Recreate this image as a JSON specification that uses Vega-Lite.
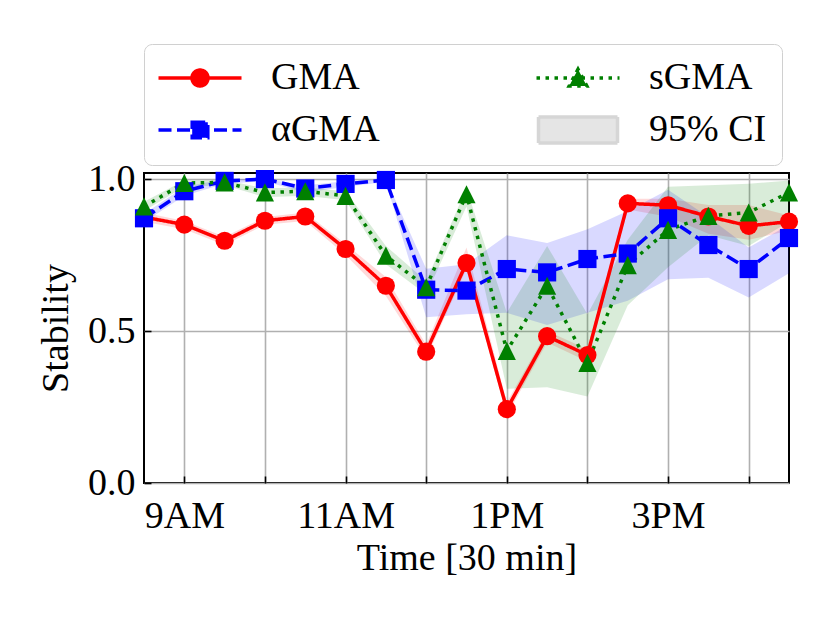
{
  "$schema": "https://vega.github.io/schema/vega-lite/v6.json",
  "width": 645,
  "height": 310,
  "autosize": {"type": "none"},
  "padding": {"left": 144, "top": 173, "right": 42, "bottom": 136},
  "background": "white",
  "config": {
    "view": {"stroke": "black", "strokeWidth": 2},
    "font": "Liberation Serif",
    "axis": {
      "domain": false,
      "grid": true,
      "gridColor": "#b0b0b0",
      "gridWidth": 1.6,
      "ticks": true,
      "tickColor": "black",
      "tickWidth": 1.6,
      "tickSize": -7,
      "labelFont": "Liberation Serif",
      "labelFontSize": 38,
      "labelColor": "black",
      "labelFlush": false,
      "labelOverlap": false,
      "titleFont": "Liberation Serif",
      "titleFontSize": 38,
      "titleFontWeight": "normal",
      "titleColor": "black"
    }
  },
  "data": {
    "values": [
      {"t": 8.5, "s": "GMA", "v": 0.875, "lo": 0.86, "hi": 0.89},
      {"t": 9, "s": "GMA", "v": 0.85, "lo": 0.835, "hi": 0.862},
      {"t": 9.5, "s": "GMA", "v": 0.797, "lo": 0.783, "hi": 0.81},
      {"t": 10, "s": "GMA", "v": 0.863, "lo": 0.85, "hi": 0.875},
      {"t": 10.5, "s": "GMA", "v": 0.877, "lo": 0.862, "hi": 0.89},
      {"t": 11, "s": "GMA", "v": 0.77, "lo": 0.75, "hi": 0.786},
      {"t": 11.5, "s": "GMA", "v": 0.649, "lo": 0.615, "hi": 0.678},
      {"t": 12, "s": "GMA", "v": 0.432, "lo": 0.41, "hi": 0.455},
      {"t": 12.5, "s": "GMA", "v": 0.724, "lo": 0.705, "hi": 0.775},
      {"t": 13, "s": "GMA", "v": 0.243, "lo": 0.222, "hi": 0.265},
      {"t": 13.5, "s": "GMA", "v": 0.483, "lo": 0.462, "hi": 0.5},
      {"t": 14, "s": "GMA", "v": 0.421, "lo": 0.4, "hi": 0.44},
      {"t": 14.5, "s": "GMA", "v": 0.92, "lo": 0.9, "hi": 0.935},
      {"t": 15, "s": "GMA", "v": 0.914, "lo": 0.876, "hi": 0.935},
      {"t": 15.5, "s": "GMA", "v": 0.877, "lo": 0.82, "hi": 0.915},
      {"t": 16, "s": "GMA", "v": 0.846, "lo": 0.8, "hi": 0.915},
      {"t": 16.5, "s": "GMA", "v": 0.86, "lo": 0.83, "hi": 0.88},
      {"t": 8.5, "s": "αGMA", "v": 0.871, "lo": 0.858, "hi": 0.885},
      {"t": 9, "s": "αGMA", "v": 0.96, "lo": 0.945, "hi": 0.975},
      {"t": 9.5, "s": "αGMA", "v": 0.994, "lo": 0.985, "hi": 1.0},
      {"t": 10, "s": "αGMA", "v": 1.0, "lo": 0.993, "hi": 1.0},
      {"t": 10.5, "s": "αGMA", "v": 0.969, "lo": 0.955, "hi": 0.98},
      {"t": 11, "s": "αGMA", "v": 0.984, "lo": 0.975, "hi": 0.993},
      {"t": 11.5, "s": "αGMA", "v": 0.997, "lo": 0.99, "hi": 1.0},
      {"t": 12, "s": "αGMA", "v": 0.636, "lo": 0.545, "hi": 0.705},
      {"t": 12.5, "s": "αGMA", "v": 0.633, "lo": 0.555, "hi": 0.72},
      {"t": 13, "s": "αGMA", "v": 0.704, "lo": 0.56, "hi": 0.815},
      {"t": 13.5, "s": "αGMA", "v": 0.693, "lo": 0.52, "hi": 0.79},
      {"t": 14, "s": "αGMA", "v": 0.737, "lo": 0.56, "hi": 0.835},
      {"t": 14.5, "s": "αGMA", "v": 0.755, "lo": 0.6, "hi": 0.895},
      {"t": 15, "s": "αGMA", "v": 0.871, "lo": 0.67, "hi": 0.965},
      {"t": 15.5, "s": "αGMA", "v": 0.783, "lo": 0.675, "hi": 0.875},
      {"t": 16, "s": "αGMA", "v": 0.704, "lo": 0.61, "hi": 0.775},
      {"t": 16.5, "s": "αGMA", "v": 0.806, "lo": 0.69, "hi": 0.85},
      {"t": 8.5, "s": "sGMA", "v": 0.91, "lo": 0.895, "hi": 0.925},
      {"t": 9, "s": "sGMA", "v": 0.987, "lo": 0.975, "hi": 0.995},
      {"t": 9.5, "s": "sGMA", "v": 0.989, "lo": 0.98, "hi": 0.997},
      {"t": 10, "s": "sGMA", "v": 0.956, "lo": 0.94, "hi": 0.97},
      {"t": 10.5, "s": "sGMA", "v": 0.96, "lo": 0.945, "hi": 0.972},
      {"t": 11, "s": "sGMA", "v": 0.945, "lo": 0.93, "hi": 0.96},
      {"t": 11.5, "s": "sGMA", "v": 0.748, "lo": 0.72, "hi": 0.78},
      {"t": 12, "s": "sGMA", "v": 0.644, "lo": 0.62, "hi": 0.665},
      {"t": 12.5, "s": "sGMA", "v": 0.95, "lo": 0.91, "hi": 0.97},
      {"t": 13, "s": "sGMA", "v": 0.435, "lo": 0.31, "hi": 0.56},
      {"t": 13.5, "s": "sGMA", "v": 0.649, "lo": 0.315, "hi": 0.78},
      {"t": 14, "s": "sGMA", "v": 0.395, "lo": 0.285, "hi": 0.555},
      {"t": 14.5, "s": "sGMA", "v": 0.717, "lo": 0.585, "hi": 0.8},
      {"t": 15, "s": "sGMA", "v": 0.833, "lo": 0.71, "hi": 0.975},
      {"t": 15.5, "s": "sGMA", "v": 0.879, "lo": 0.815, "hi": 0.98},
      {"t": 16, "s": "sGMA", "v": 0.89, "lo": 0.78, "hi": 0.985},
      {"t": 16.5, "s": "sGMA", "v": 0.956, "lo": 0.86, "hi": 0.995}
    ]
  },
  "encoding": {
    "x": {
      "field": "t",
      "type": "quantitative",
      "scale": {"domain": [8.5, 16.5], "nice": false, "zero": false},
      "axis": {
        "title": "Time [30 min]",
        "values": [9, 10, 11, 12, 13, 14, 15, 16],
        "labelExpr": "datum.value == 9 ? '9AM' : datum.value == 11 ? '11AM' : datum.value == 13 ? '1PM' : datum.value == 15 ? '3PM' : ''",
        "labelPadding": 21,
        "titlePadding": 4
      }
    }
  },
  "layer": [
    {
      "mark": {"type": "area", "opacity": 0.15},
      "encoding": {
        "y": {
          "field": "lo",
          "type": "quantitative",
          "title": "Stability",
          "scale": {"domain": [0, 1.02], "nice": false},
          "axis": {"values": [0, 0.5, 1], "format": ".1f", "labelPadding": 16, "titlePadding": 12}
        },
        "y2": {"field": "hi"},
        "color": {
          "field": "s",
          "type": "nominal",
          "scale": {"domain": ["GMA", "αGMA", "sGMA"], "range": ["#ff0000", "#0000ff", "#008000"]},
          "legend": null
        }
      }
    },
    {
      "mark": {"type": "line", "strokeWidth": 3.5},
      "encoding": {
        "y": {"field": "v", "type": "quantitative", "title": "Stability"},
        "color": {"field": "s", "type": "nominal", "legend": null},
        "strokeDash": {
          "field": "s",
          "type": "nominal",
          "scale": {"domain": ["GMA", "αGMA", "sGMA"], "range": [[1, 0], [13, 5.5], [3.5, 5.5]]},
          "legend": null
        }
      }
    },
    {
      "mark": {"type": "point", "filled": true, "opacity": 1, "size": 330},
      "encoding": {
        "y": {"field": "v", "type": "quantitative", "title": "Stability"},
        "color": {"field": "s", "type": "nominal", "legend": null},
        "shape": {
          "field": "s",
          "type": "nominal",
          "scale": {"domain": ["GMA", "αGMA", "sGMA"], "range": ["circle", "square", "M0,-1L-1,1L1,1Z"]},
          "legend": null
        }
      }
    },
    {
      "mark": {"type": "point", "filled": true, "opacity": 0, "strokeWidth": 3.5},
      "encoding": {
        "y": {"field": "v", "type": "quantitative", "title": "Stability"},
        "fill": {
          "field": "s",
          "type": "nominal",
          "scale": {"domain": ["GMA", "αGMA", "sGMA", "95% CI"], "range": ["#ff0000", "#0000ff", "#008000", "#e5e5e5"]},
          "legend": {
            "orient": "none", "legendX": 0, "legendY": -129, "columns": 2, "title": null,
            "padding": 15, "rowPadding": 13, "columnPadding": 149,
            "symbolSize": 400, "symbolOffset": 22, "labelOffset": 52, "symbolOpacity": 1, "symbolStrokeWidth": 3.5,
            "labelFont": "Liberation Serif", "labelFontSize": 38, "labelColor": "black", "labelLimit": 300,
            "fillColor": "white", "strokeColor": "#d0d0d0", "cornerRadius": 8
          }
        },
        "stroke": {
          "field": "s",
          "type": "nominal",
          "scale": {"domain": ["GMA", "αGMA", "sGMA", "95% CI"], "range": ["#ff0000", "#0000ff", "#008000", "#d6d6d6"]},
          "legend": {
            "orient": "none", "legendX": 0, "legendY": -129, "columns": 2, "title": null,
            "padding": 15, "rowPadding": 13, "columnPadding": 149,
            "symbolSize": 400, "symbolOffset": 22, "labelOffset": 52, "symbolOpacity": 1, "symbolStrokeWidth": 3.5,
            "labelFont": "Liberation Serif", "labelFontSize": 38, "labelColor": "black", "labelLimit": 300,
            "fillColor": "white", "strokeColor": "#d0d0d0", "cornerRadius": 8
          }
        },
        "shape": {
          "field": "s",
          "type": "nominal",
          "scale": {
            "domain": ["GMA", "αGMA", "sGMA", "95% CI"],
            "range": [
              "M-4.15,0H4.15M0.8,0A0.8,0.8,0,1,1,-0.8,0A0.8,0.8,0,1,1,0.8,0Z",
              "M-4.15,0H4.15M-0.78,-0.78H0.78V0.78H-0.78Z",
              "M-4.15,0H4.15M0,-0.88L-0.88,0.8L0.88,0.8Z",
              "M-3.95,-1.3H3.95V1.3H-3.95Z"
            ]
          },
          "legend": {
            "orient": "none", "legendX": 0, "legendY": -129, "columns": 2, "title": null,
            "padding": 15, "rowPadding": 13, "columnPadding": 149,
            "symbolSize": 400, "symbolOffset": 22, "labelOffset": 52, "symbolOpacity": 1, "symbolStrokeWidth": 3.5,
            "labelFont": "Liberation Serif", "labelFontSize": 38, "labelColor": "black", "labelLimit": 300,
            "fillColor": "white", "strokeColor": "#d0d0d0", "cornerRadius": 8
          }
        },
        "strokeDash": {
          "field": "s",
          "type": "nominal",
          "scale": {"domain": ["GMA", "αGMA", "sGMA", "95% CI"], "range": [[1, 0], [13, 5.5], [3.5, 5.5], [1, 0]]},
          "legend": {
            "orient": "none", "legendX": 0, "legendY": -129, "columns": 2, "title": null,
            "padding": 15, "rowPadding": 13, "columnPadding": 149,
            "symbolSize": 400, "symbolOffset": 22, "labelOffset": 52, "symbolOpacity": 1, "symbolStrokeWidth": 3.5,
            "labelFont": "Liberation Serif", "labelFontSize": 38, "labelColor": "black", "labelLimit": 300,
            "fillColor": "white", "strokeColor": "#d0d0d0", "cornerRadius": 8
          }
        }
      }
    }
  ],
  "resolve": {
    "scale": {"shape": "independent", "strokeDash": "independent"},
    "legend": {"shape": "independent", "strokeDash": "independent", "fill": "independent", "stroke": "independent"}
  }
}
